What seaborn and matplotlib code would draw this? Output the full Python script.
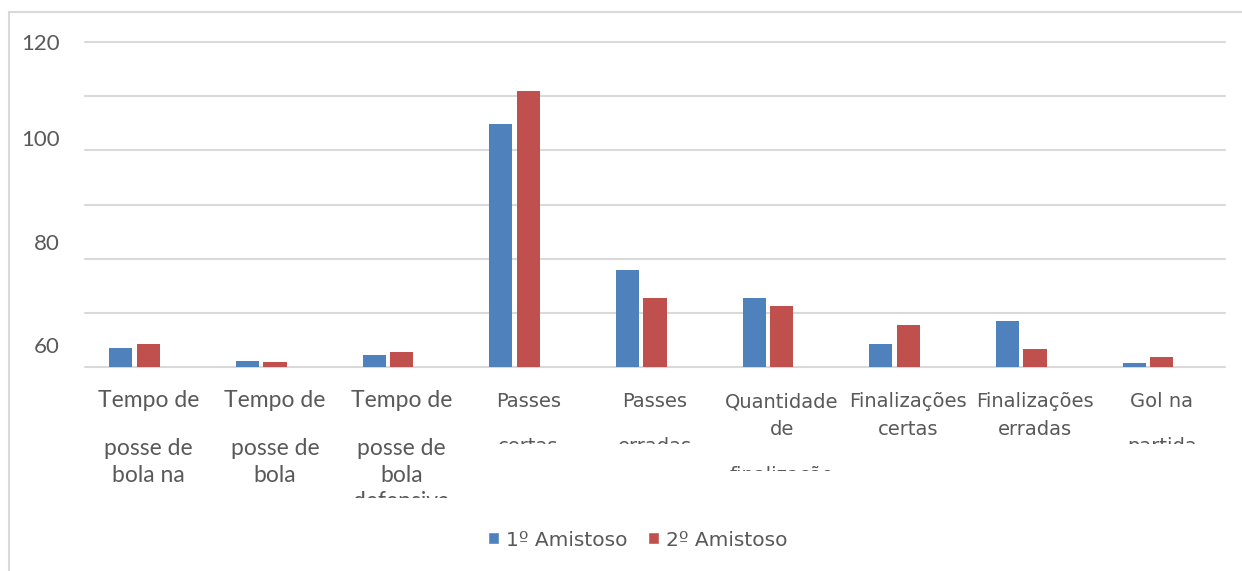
import matplotlib
matplotlib.use("Agg")
import matplotlib.pyplot as plt
import seaborn as sns
import numpy as np
import pandas as pd
from matplotlib.patches import Patch, Rectangle
from matplotlib.transforms import Bbox, TransformedBbox, blended_transform_factory

# dados
categorias = ["Tempo de posse de bola na", "Tempo de posse de bola",
              "Tempo de posse de bola defensiva", "Passes certas", "Passes erradas",
              "Quantidade de finalização", "Finalizações certas",
              "Finalizações erradas", "Gol na partida"]
amistoso_1 = [63.5, 61.1, 62.3, 104.9, 78.0, 72.8, 64.3, 68.4, 60.8]
amistoso_2 = [64.2, 61.0, 62.8, 111.0, 72.8, 71.3, 67.8, 63.3, 61.8]
series = ["1º Amistoso", "2º Amistoso", "Série 3"]  # a terceira série não aparece

# quebra das linhas dos rótulos, como no original
linhas = [["Tempo de", "posse de", "bola na"],
          ["Tempo de", "posse de", "bola"],
          ["Tempo de", "posse de", "bola", "defensiva"],
          ["Passes", "certas"],
          ["Passes", "erradas"],
          ["Quantidade", "de", "finalização"],
          ["Finalizações", "certas"],
          ["Finalizações", "erradas"],
          ["Gol na", "partida"]]
y_labels = ["120", "100", "80", "60"]

W, H = 1242, 571
AZUL, VERMELHO = "#4F81BD", "#C0504D"
CINZA_TXT, CINZA_GRID = "#595959", "#D9D9D9"

df = pd.DataFrame({
    "categoria": categorias * 2,
    "valor": amistoso_1 + amistoso_2,
    "serie": [series[0]] * len(categorias) + [series[1]] * len(categorias),
})

sns.set_style("white")
fig = plt.figure(figsize=(W / 100, H / 100), dpi=100)
ax = fig.add_axes([85 / W, 1 - 367 / H, (1225 - 85) / W, (367 - 42) / H])

sns.barplot(data=df, x="categoria", y="valor", hue="serie", order=categorias,
            hue_order=series, palette={series[0]: AZUL, series[1]: VERMELHO, series[2]: "white"},
            saturation=1, width=0.65, gap=0.16, linewidth=0, legend=False,
            errorbar=None, ax=ax)

ax.set_ylim(60, 120)
ax.set_xlim(-0.5, len(categorias) - 0.5)
ax.set_xlabel("")
ax.set_ylabel("")
for s in ax.spines.values():
    s.set_visible(False)

# linhas de grade a cada 10, rótulos deslocados como no original
ax.yaxis.remove_overlapping_locs = False
ax.set_yticks(np.arange(60, 121, 10), minor=True)
ax.set_yticks([120, 102.2, 83.0, 64.0])
ax.set_yticklabels(y_labels, fontfamily="Lato", fontsize=16, color=CINZA_TXT)
ax.tick_params(axis="y", which="both", length=0, pad=18)
ax.grid(False)
ax.grid(which="minor", axis="y", color=CINZA_GRID, linewidth=1.5, clip_on=False)
ax.set_axisbelow(True)
ax.set_xticks(range(len(categorias)))
ax.set_xticklabels([])
ax.tick_params(axis="x", length=0)

# rótulos do eixo x, linha a linha, recortados como na imagem
trans = blended_transform_factory(ax.transData, fig.transFigure)
bases = {0: [407, 455, 482, 509], 1: [407, 455, 482], 2: [407, 455, 482, 508],
         3: [407, 452], 4: [407, 452], 5: [407, 435, 481], 8: [407, 452]}
cortes = {2: 498, 3: 444, 4: 444, 5: 471, 8: 444}
for i, ls in enumerate(linhas):
    ys = bases.get(i, [407, 435])
    fam = "Lato" if i < 3 else "DejaVu Sans"
    fs = 16.5 if i < 3 else 14
    for txt, yb in zip(ls, ys):
        t = ax.text(i, 1 - yb / H, txt, transform=trans, ha="center", va="baseline",
                    fontfamily=fam, fontsize=fs, color=CINZA_TXT)
        corte = cortes.get(i, H)
        t.set_clip_box(TransformedBbox(Bbox([[0, 1 - corte / H], [1, 1]]), fig.transFigure))
        t.set_clip_on(True)

# moldura do gráfico
fig.add_artist(Rectangle((9 / W, -0.1), 1.2, 1.1 - 12 / H, transform=fig.transFigure,
                         fill=False, edgecolor=CINZA_GRID, linewidth=1.5))

handles = [Patch(facecolor=AZUL, label=series[0]), Patch(facecolor=VERMELHO, label=series[1])]
fig.legend(handles=handles, loc="center", bbox_to_anchor=(638 / W, 1 - 540 / H), ncol=2,
           frameon=False, handlelength=0.55, handleheight=0.55, handletextpad=0.35,
           columnspacing=1.0, prop={"family": "DejaVu Sans", "size": 14.5},
           labelcolor=CINZA_TXT)

fig.savefig("out.png", dpi=100)
